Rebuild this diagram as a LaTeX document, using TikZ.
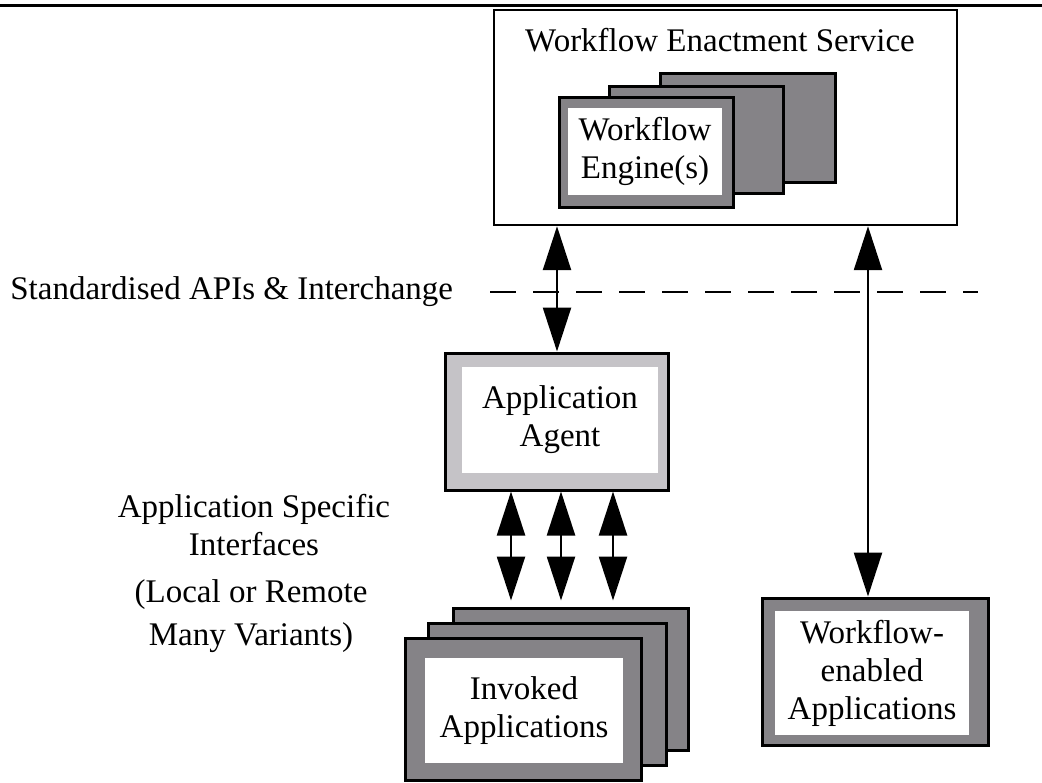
\documentclass[tikz,border=0pt]{standalone}
\usepackage{fontspec}
\setmainfont{Liberation Serif}
\usetikzlibrary{arrows.meta}

\definecolor{cardgray}{RGB}{133,131,135}
\definecolor{agentgray}{RGB}{197,195,199}

\tikzstyle{card}=[draw,line width=1.5pt,fill=cardgray,inner sep=0pt]
\tikzstyle{lightcard}=[card,fill=agentgray]
\tikzstyle{face}=[fill=white,inner sep=0pt,align=center]
\tikzstyle{caption}=[inner sep=0pt,align=center]
\tikzstyle{link}=[draw,line width=1.2pt,<->]
\tikzset{sz/.style 2 args={minimum width=#1*0.5pt,minimum height=#2*0.5pt}}

\begin{document}
\begin{tikzpicture}[x=0.5pt, y=-0.5pt, >={Triangle[length=22pt,width=14pt]},
		font=\fontsize{16.5}{19}\selectfont]
		\useasboundingbox (0,0) rectangle (1042,782);
		\draw [line width=1.5pt] (0,5) -- (1042,5);

		% enactment service
		\node [draw,line width=1.2pt,sz={463}{215}] (wes)        at (725.5,117.5) {};
		\node [caption]                             (westitle)   at (720,40)      {Workflow Enactment Service};
		\node [card,sz={175}{109}]                  (engine3)    at (747.5,127.5) {};
		\node [card,sz={174}{107}]                  (engine2)    at (696,139.5)   {};
		\node [card,sz={174}{110}]                  (engine1)    at (646,152)     {};
		\node [face,sz={154}{87}]                   (enginetext) at (645,151.5)   {Workflow\\Engine(s)};

		% interchange level
		\node [caption,anchor=west] (apis)  at (10,292)  {Standardised APIs \& Interchange};
		\coordinate                 (dashL) at (490,292);
		\coordinate                 (dashR) at (978,292);
		\draw [dash pattern=on 13pt off 8.5pt,line width=0.8pt] (dashL) -- (dashR);

		% agent
		\node [lightcard,sz={223}{137}] (agent)     at (557,421.5) {};
		\node [face,sz={196}{106}]      (agenttext) at (560,420)   {Application\\Agent};

		\node [caption] (iface)    at (254,525) {Application Specific\\Interfaces};
		\node [caption,font=\fontsize{16.5}{21.5}\selectfont]
		                (variants) at (251,616) {(Local or Remote\\Many Variants)};

		% applications
		\node [card,sz={235}{142}] (apps3)     at (570.5,679) {};
		\node [card,sz={238}{142}] (apps2)     at (547,694)   {};
		\node [card,sz={236}{142}] (apps1)     at (523,709)   {};
		\node [face,sz={198}{105}] (appstext)  at (524,710.5) {Invoked\\Applications};
		\node [card,sz={226}{147}] (wfapp)     at (875,671.5) {};
		\node [face,sz={194}{124}] (wfapptext) at (872,673)   {Workflow-\\enabled\\Applications};

		% connectors
		\draw [link] (agent.north |- wes.south) -- (agent.north);
		\coordinate (wfin) at ([xshift=-3.5pt]wfapp.north);
		\draw [link] (wfin |- wes.south) -- (wfin);
		\foreach \dx [count=\i] in {-46,4,56} {
			\coordinate (port\i) at ([xshift=\dx*0.5pt]agent.south);
			\draw [link,shorten >=3pt] (port\i) -- (port\i |- apps3.north);
		}
	\end{tikzpicture}
\end{document}
